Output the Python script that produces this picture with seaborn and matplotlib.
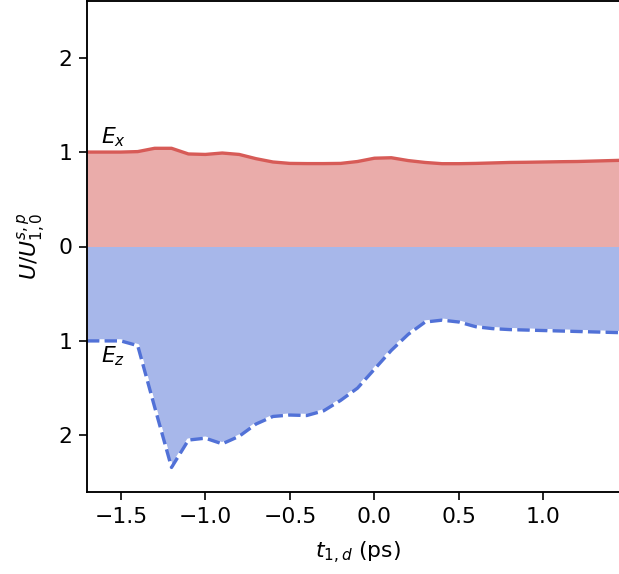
import numpy as np
import pandas as pd
import matplotlib
matplotlib.use("Agg")
import matplotlib.pyplot as plt
from matplotlib.ticker import FixedLocator, FuncFormatter
import seaborn as sns

# Delay time t_{1,d} (ps)
t_ps = [-1.7, -1.6, -1.5, -1.4, -1.3, -1.2, -1.1, -1.0, -0.9, -0.8, -0.7,
        -0.6, -0.5, -0.4, -0.3, -0.2, -0.1, 0.0, 0.1, 0.2, 0.3, 0.4, 0.5,
        0.6, 0.7, 0.8, 0.9, 1.0, 1.1, 1.2, 1.3, 1.4, 1.5]

# Normalised energy of the E_x component (drawn above zero)
energy_x = [1.00, 1.00, 1.00, 1.005, 1.04, 1.04, 0.98, 0.975, 0.99, 0.975, 0.93,
            0.895, 0.88, 0.878, 0.878, 0.88, 0.90, 0.935, 0.94, 0.91, 0.89, 0.877, 0.877,
            0.88, 0.885, 0.89, 0.892, 0.895, 0.898, 0.90, 0.905, 0.91, 0.915]

# Normalised energy of the E_z component (drawn mirrored below zero)
energy_z = [1.00, 1.00, 1.00, 1.05, 1.70, 2.34, 2.05, 2.03, 2.09, 2.01, 1.88,
            1.80, 1.785, 1.79, 1.74, 1.63, 1.50, 1.30, 1.10, 0.93, 0.80, 0.78, 0.80,
            0.85, 0.87, 0.88, 0.885, 0.89, 0.895, 0.90, 0.905, 0.91, 0.915]

y_ticks = [-2, -1, 0, 1, 2]

red = "#d75b57"
blue = "#5171d7"

plt.rcParams.update({
    "font.size": 10.5,
    "xtick.major.size": 3.7,
    "ytick.major.size": 3.7,
    "axes.linewidth": 0.9,
})

df = pd.DataFrame({
    "t": t_ps,
    "Ex": energy_x,
    "Ez": -np.asarray(energy_z),
})

fig = plt.figure(figsize=(619 / 150, 574 / 150), dpi=150)
ax = fig.add_axes([87 / 619, 82 / 574, 541 / 619, 491 / 574])

ax.fill_between(df["t"], 0, df["Ex"], color=red, alpha=0.5, linewidth=0)
ax.fill_between(df["t"], 0, df["Ez"], color=blue, alpha=0.5, linewidth=0)

sns.lineplot(data=df, x="t", y="Ex", ax=ax, color=red, linewidth=1.6)
sns.lineplot(data=df, x="t", y="Ez", ax=ax, color=blue, linewidth=1.6,
             linestyle="--", gapcolor="white")

ax.text(-1.62, 1.09, r"$E_x$", fontsize=10.5, va="baseline", ha="left")
ax.text(-1.62, -1.23, r"$E_z$", fontsize=10.5, va="baseline", ha="left")

ax.set_xlim(-1.7, 1.5)
ax.set_ylim(-2.6, 2.6)
ax.yaxis.set_major_locator(FixedLocator(y_ticks))
ax.yaxis.set_major_formatter(FuncFormatter(lambda v, pos: f"{abs(v):.0f}"))
ax.set_xticks([-1.5, -1.0, -0.5, 0.0, 0.5, 1.0])

ax.set_xlabel(r"$t_{1,d}$ (ps)", labelpad=6)
ax.set_ylabel(r"$U/U^{s,p}_{1,0}$", labelpad=5)

fig.savefig("out.png", dpi=150)
